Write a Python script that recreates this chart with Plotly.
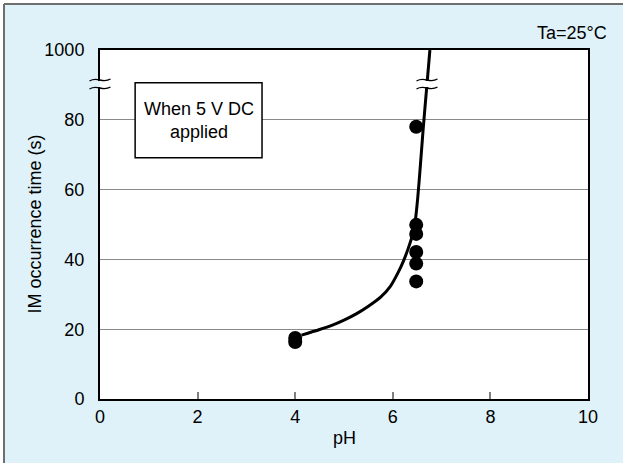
import plotly.graph_objects as go

# ---- data ----
point_ph = [4.0, 4.0, 6.48, 6.48, 6.48, 6.48, 6.48, 6.48]
point_time = [17.5, 16.3, 78.0, 49.9, 47.3, 42.1, 38.8, 33.7]

curve_ph = [4.13, 4.5, 4.75, 5.0, 5.25, 5.5, 5.75, 5.95, 6.1, 6.22, 6.32, 6.4, 6.46, 6.51,
            6.56, 6.62, 6.69, 6.76]
curve_time = [18.3, 19.9, 21.1, 22.6, 24.4, 26.6, 29.2, 32.3, 36.0, 39.6, 43.3, 46.8, 51.0, 57.5,
              66.0, 77.0, 88.5, 100.0]

y_tickvals = [0, 20, 40, 60, 80, 100]
y_ticktext = ["0", "20", "40", "60", "80", "1000"]
x_tickvals = [0, 2, 4, 6, 8, 10]
x_ticktext = ["0", "2", "4", "6", "8", "10"]

FONT = "Liberation Sans, Arial, sans-serif"
BG = "#dff2fa"
W, H = 623, 463
L, R, T, B = 100, 35, 50, 64
PW = W - L - R
PH = H - T - B


def px_x(p):
    return (p - L) / PW


def px_y(p):
    return (H - B - p) / PH


fig = go.Figure()

fig.add_trace(go.Scatter(
    x=curve_ph, y=curve_time, mode="lines",
    line=dict(color="black", width=3, shape="spline", smoothing=0.8),
    hoverinfo="skip", showlegend=False,
))
fig.add_trace(go.Scatter(
    x=point_ph, y=point_time, mode="markers",
    marker=dict(color="black", size=14),
    showlegend=False,
))

shapes = []
# outer frame strip (white outside, gray frame line)
shapes.append(dict(type="rect", xref="paper", yref="paper", x0=px_x(-5), x1=px_x(W + 5),
                   y0=px_y(4), y1=px_y(-5), fillcolor="white", line=dict(width=0), layer="below"))
shapes.append(dict(type="rect", xref="paper", yref="paper", x0=px_x(-5), x1=px_x(4),
                   y0=px_y(H + 5), y1=px_y(-5), fillcolor="white", line=dict(width=0), layer="below"))
shapes.append(dict(type="line", xref="paper", yref="paper", x0=px_x(4), x1=px_x(W + 5),
                   y0=px_y(4), y1=px_y(4), line=dict(color="#6e6e6e", width=2), layer="below"))
shapes.append(dict(type="line", xref="paper", yref="paper", x0=px_x(4), x1=px_x(4),
                   y0=px_y(4), y1=px_y(H + 5), line=dict(color="#6e6e6e", width=2), layer="below"))

# label box
shapes.append(dict(type="rect", xref="x", yref="y", x0=0.72, x1=3.32, y0=69.1, y1=90.6,
                   fillcolor="white", line=dict(color="black", width=1.5), layer="above"))


def tilde(cx, cy, w=21, a=3.0):
    # cx, cy in pixels
    x0, x1 = cx - w / 2, cx + w / 2
    p = "M {},{} C {},{} {},{} {},{}".format(
        px_x(x0), px_y(cy + 1),
        px_x(x0 + w * 0.4), px_y(cy - a * 1.3),
        px_x(x0 + w * 0.6), px_y(cy + a * 1.3),
        px_x(x1), px_y(cy - 1))
    return p


def add_break(cx, fill_left, fill_right):
    shapes.append(dict(type="rect", xref="paper", yref="paper",
                       x0=px_x(cx - 3), x1=px_x(cx), y0=px_y(87), y1=px_y(81),
                       fillcolor=fill_left, line=dict(width=0), layer="above"))
    shapes.append(dict(type="rect", xref="paper", yref="paper",
                       x0=px_x(cx), x1=px_x(cx + 3), y0=px_y(87), y1=px_y(81),
                       fillcolor=fill_right, line=dict(width=0), layer="above"))
    for cy in (80, 88):
        shapes.append(dict(type="path", xref="paper", yref="paper", path=tilde(cx, cy),
                           line=dict(color="black", width=1.3), layer="above"))


add_break(100, BG, "white")
add_break(427, "white", "white")

annotations = [
    dict(text="When 5 V DC<br>applied", x=2.02, y=79.9, xref="x", yref="y",
         showarrow=False, font=dict(family=FONT, size=18, color="black"), align="center"),
    dict(text="Ta=25°C", x=px_x(609), y=px_y(33), xref="paper", yref="paper",
         xanchor="right", yanchor="middle", showarrow=False,
         font=dict(family=FONT, size=18, color="black")),
    dict(text="pH", x=0.5, y=px_y(438), xref="paper", yref="paper",
         xanchor="center", yanchor="middle", showarrow=False,
         font=dict(family=FONT, size=18, color="black")),
    dict(text="IM occurrence time (s)", x=px_x(34), y=0.5, xref="paper", yref="paper",
         xanchor="center", yanchor="middle", textangle=-90, showarrow=False,
         font=dict(family=FONT, size=18, color="black")),
]

fig.update_layout(
    width=W, height=H,
    margin=dict(l=L, r=R, t=T, b=B, pad=0),
    paper_bgcolor=BG, plot_bgcolor="white",
    font=dict(family=FONT, size=18, color="black"),
    shapes=shapes, annotations=annotations,
    showlegend=False,
)
fig.update_xaxes(
    range=[0, 10], tickvals=x_tickvals, ticktext=x_ticktext,
    showgrid=False, zeroline=False,
    showline=True, linecolor="black", linewidth=2, mirror=True,
    ticks="inside", ticklen=7, tickwidth=1.5, tickcolor="#808080",
    tickfont=dict(family=FONT, size=18, color="black"),
)
fig.update_yaxes(
    range=[0, 100], tickvals=y_tickvals, ticktext=y_ticktext,
    showgrid=True, gridcolor="#8a8a8a", gridwidth=1, zeroline=False,
    showline=True, linecolor="black", linewidth=2, mirror=True,
    ticks="", ticklabelstandoff=10,
    tickfont=dict(family=FONT, size=18, color="black"),
)

fig.write_html(
    "out.html",
    config={"displayModeBar": False},
    post_script="document.body.style.margin='0px';document.body.style.overflow='hidden';",
)
